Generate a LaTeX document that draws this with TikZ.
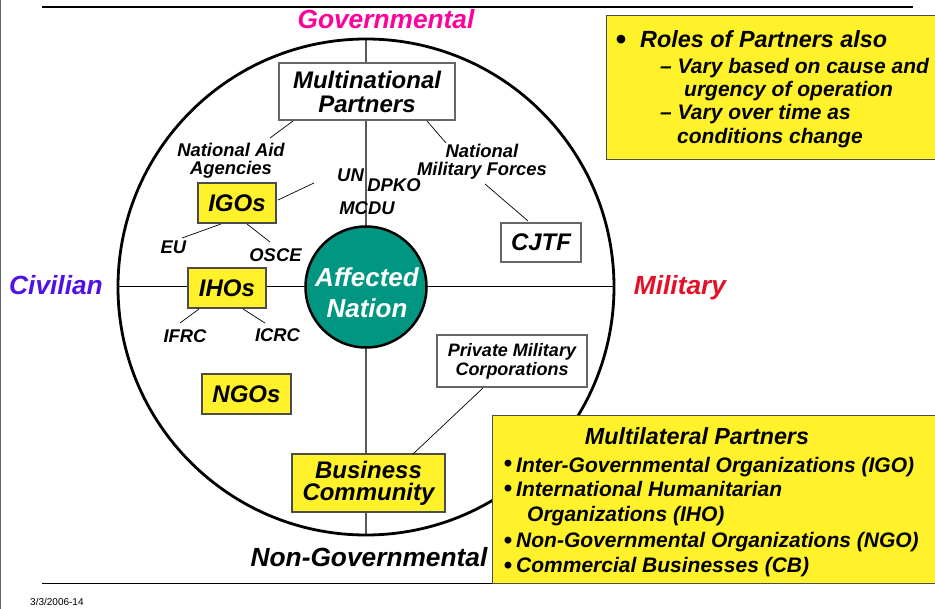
\documentclass[tikz,border=0pt]{standalone}
\usepackage{fontspec}
\setmainfont{Liberation Sans}
\definecolor{yel}{RGB}{255,242,42}
\definecolor{tealc}{RGB}{0,150,130}
\definecolor{govc}{RGB}{255,0,153}
\definecolor{civc}{RGB}{80,16,230}
\definecolor{milc}{RGB}{228,16,40}
\begin{document}
\begin{tikzpicture}[x=1pt,y=-1pt,
  axislbl/.style={font=\fontsize{26.3}{28}\selectfont\bfseries\itshape, inner sep=0},
  small/.style={font=\fontsize{18.4}{18}\selectfont\bfseries\itshape, inner sep=0, align=center},
  boxfont/.style={font=\fontsize{24}{24}\selectfont\bfseries\itshape},
  ybox/.style={draw=black!70, line width=1.3pt, fill=yel, inner sep=0, align=center, boxfont},
  wbox/.style={draw=black!60, line width=1.2pt, fill=white, inner sep=0, align=center, boxfont},
  conn/.style={line width=0.7pt, black},
  note/.style={font=\fontsize{21}{21}\selectfont\bfseries\itshape, inner sep=0, anchor=base west},
  mlist/.style={font=\fontsize{21}{21}\selectfont\bfseries\itshape, inner sep=0, anchor=base west},
  bul/.style={font=\fontsize{24}{24}\selectfont\bfseries, inner sep=0, anchor=base}
]
\useasboundingbox (0,0) rectangle (935,609);
% frame lines
\draw[black!60, line width=1pt] (0.5,0) -- (0.5,609);
\draw[line width=2.7pt] (42,7) -- (913,7);
\draw[line width=1pt] (42,583) -- (935,583);
\node[font=\fontsize{10}{10}\selectfont, inner sep=0, anchor=base west] (foot) at (30,605) {3/3/2006-14};

% big circle and axes
\coordinate (C) at (366,287);
\coordinate (top) at (366,39);
\coordinate (bot) at (366,535);
\coordinate (lft) at (118,287);
\coordinate (rgt) at (614,287);
\draw[black!65, line width=1.6pt] (top) -- (bot);
\draw[line width=1pt] (lft) -- (rgt);
\draw[line width=2.8pt] (C) circle[radius=248];

% axis labels
\node[axislbl, text=govc] (gov) at (386,19) {Governmental};
\node[axislbl, text=civc] (civ) at (56,285) {Civilian};
\node[axislbl, text=milc, anchor=base] (mil) at (680,295) {Military};
\node[axislbl, text=black] (nongov) at (369,557) {Non-Governmental};

% centre
\node[circle, draw=black, line width=2.5pt, fill=tealc, minimum size=121pt, inner sep=0] (an) at (C) {};
\node[font=\fontsize{26}{31}\selectfont\bfseries\itshape, text=white, align=center, inner sep=0, anchor=north] (antext) at (367,267) {Affected\\Nation};

% boxes
\node[wbox, minimum width=176pt, minimum height=57pt] (mp) at (367,91.5) {Multinational\\Partners};
\node[wbox, minimum width=80pt, minimum height=39pt] (cjtf) at (541,242.5) {CJTF};
\node[ybox, minimum width=78pt, minimum height=40pt] (igo) at (237,203) {IGOs};
\node[ybox, minimum width=78pt, minimum height=40pt] (iho) at (227,288) {IHOs};
\node[ybox, minimum width=89pt, minimum height=40pt] (ngo) at (246.5,394) {NGOs};
\node[wbox, minimum width=150pt, minimum height=52pt, font=\fontsize{18}{19}\selectfont\bfseries\itshape] (pmc) at (512,361) {Private Military\\Corporations};
\node[ybox, minimum width=153pt, minimum height=58pt, font=\fontsize{24}{22}\selectfont\bfseries\itshape] (bc) at (368.5,483) {Business\\Community};

% small labels
\node[small, anchor=north] (naa) at (231,143) {National Aid\\Agencies};
\node[small, anchor=north] (nmf) at (482,144) {National\\Military Forces};
\node[small] (un) at (350.5,175) {UN};
\node[small] (dpko) at (394,185) {DPKO};
\node[small] (mcdu) at (367,208) {MCDU};
\node[small] (eu) at (173.5,247) {EU};
\node[small] (osce) at (275.5,255) {OSCE};
\node[small] (ifrc) at (185,336) {IFRC};
\node[small] (icrc) at (277.5,335) {ICRC};

% connector ends
\coordinate (mpA) at (293,121);
\coordinate (naaE) at (270,138);
\coordinate (mpB) at (427,121);
\coordinate (nmfE) at (446,143);
\coordinate (nmfB) at (485,184);
\coordinate (cjtfE) at (528,221);
\coordinate (igoA) at (278,200);
\coordinate (unE) at (314,183);
\coordinate (igoB) at (221,224);
\coordinate (euE) at (182,238);
\coordinate (igoC) at (247,224);
\coordinate (osceE) at (270,242);
\coordinate (ihoA) at (199,309);
\coordinate (ifrcE) at (180,323);
\coordinate (ihoB) at (243,309);
\coordinate (icrcE) at (265,323);
\coordinate (pmcA) at (483,388);
\coordinate (bcE) at (413,454);
\draw[conn] (mpA) -- (naaE);
\draw[conn] (mpB) -- (nmfE);
\draw[conn] (nmfB) -- (cjtfE);
\draw[conn] (igoA) -- (unE);
\draw[conn] (igoB) -- (euE);
\draw[conn] (igoC) -- (osceE);
\draw[conn] (ihoA) -- (ifrcE);
\draw[conn] (ihoB) -- (icrcE);
\draw[conn] (pmcA) -- (bcE);

% top-right note
\node[draw=black!70, line width=1.2pt, fill=yel, minimum width=334pt, minimum height=144pt, anchor=north west, inner sep=0] (rolesbox) at (606,15) {};
\node[bul, font=\fontsize{30}{30}\selectfont\bfseries] (b0) at (621,49.8) {•};
\node[note, font=\fontsize{23.4}{23.4}\selectfont\bfseries\itshape] (r0) at (640,48) {Roles of Partners also};
\node[note] (r1) at (660,74) {– Vary based on cause and};
\node[note] (r2) at (684,97) {urgency of operation};
\node[note] (r3) at (660,120) {– Vary over time as};
\node[note] (r4) at (677,144) {conditions change};

% bottom-right multilateral box
\node[draw=black!70, line width=1.2pt, fill=yel, minimum width=448pt, minimum height=168pt, anchor=north west, inner sep=0] (mlbox) at (492,415) {};
\node[font=\fontsize{23.3}{23.3}\selectfont\bfseries\itshape, inner sep=0, anchor=base] (mlt) at (697,445) {Multilateral Partners};
\node[bul] (m1b) at (508,471.6) {•};
\node[mlist] (m1) at (516,472.5) {Inter-Governmental Organizations (IGO)};
\node[bul] (m2b) at (508,496.6) {•};
\node[mlist] (m2) at (516,496.5) {International Humanitarian};
\node[mlist] (m3) at (527,521.5) {Organizations (IHO)};
\node[bul] (m4b) at (508,548.6) {•};
\node[mlist] (m4) at (516,547.5) {Non-Governmental Organizations (NGO)};
\node[bul] (m5b) at (508,573.6) {•};
\node[mlist] (m5) at (516,572.5) {Commercial Businesses (CB)};
\end{tikzpicture}
\end{document}
